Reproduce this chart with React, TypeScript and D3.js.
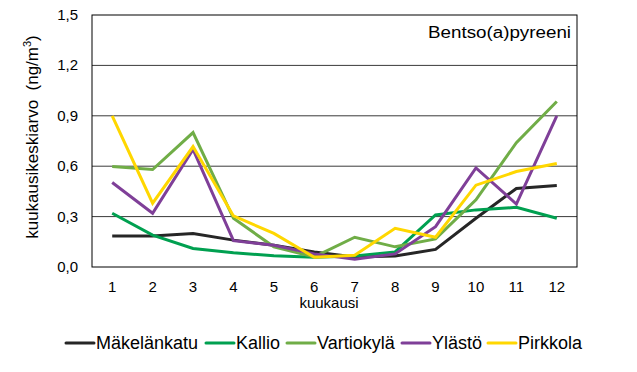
import { useEffect, useRef } from 'react';
import * as d3 from 'd3';

const months = ['1', '2', '3', '4', '5', '6', '7', '8', '9', '10', '11', '12'];
const yTicks = [0, 0.3, 0.6, 0.9, 1.2, 1.5];

const makelankatu = [0.185, 0.185, 0.2, 0.16, 0.13, 0.09, 0.06, 0.065, 0.105, 0.29, 0.467, 0.485];
const kallio = [0.32, 0.19, 0.11, 0.085, 0.067, 0.058, 0.065, 0.09, 0.31, 0.34, 0.355, 0.29];
const vartiokyla = [0.598, 0.58, 0.8, 0.29, 0.12, 0.06, 0.177, 0.12, 0.167, 0.4, 0.74, 0.985];
const ylasto = [0.503, 0.32, 0.7, 0.157, 0.13, 0.078, 0.046, 0.078, 0.24, 0.59, 0.375, 0.9];
const pirkkola = [0.9, 0.38, 0.717, 0.304, 0.2, 0.058, 0.07, 0.23, 0.177, 0.487, 0.568, 0.616];

const seriesNames = ['Mäkelänkatu', 'Kallio', 'Vartiokylä', 'Ylästö', 'Pirkkola'];
const seriesColors = ['#262626', '#00A050', '#70AD47', '#7F3F98', '#FFD700'];

const LineChart: React.FC = () => {
  const svgRef = useRef<SVGSVGElement>(null);

  const width = 637;
  const height = 372;
  const plot = { left: 92, right: 577, top: 15, bottom: 267 };
  const font = '"Liberation Sans", Arial, sans-serif';

  useEffect(() => {
    if (!svgRef.current) return;
    const svg = d3.select(svgRef.current);
    svg.selectAll('*').remove();

    const x = d3.scaleBand<string>()
      .domain(months)
      .range([plot.left, plot.right]);

    const y = d3.scaleLinear()
      .domain([0, 1.5])
      .range([plot.bottom, plot.top]);

    // gridlines
    svg.append('g')
      .selectAll('line')
      .data(yTicks.slice(1, -1))
      .enter()
      .append('line')
      .attr('x1', plot.left)
      .attr('x2', plot.right)
      .attr('y1', d => y(d))
      .attr('y2', d => y(d))
      .attr('stroke', '#3a3a3a')
      .attr('stroke-width', 1);

    // y tick labels
    svg.append('g')
      .selectAll('text')
      .data(yTicks)
      .enter()
      .append('text')
      .attr('x', plot.left - 14)
      .attr('y', d => y(d) + 5)
      .attr('text-anchor', 'end')
      .style('font-family', font)
      .style('font-size', '15px')
      .attr('fill', '#000')
      .text(d => d.toFixed(1).replace('.', ','));

    // x tick labels
    svg.append('g')
      .selectAll('text')
      .data(months)
      .enter()
      .append('text')
      .attr('x', d => (x(d) as number) + x.bandwidth() / 2)
      .attr('y', 292)
      .attr('text-anchor', 'middle')
      .style('font-family', font)
      .style('font-size', '15px')
      .text(d => d);

    svg.append('text')
      .attr('x', 329)
      .attr('y', 308)
      .attr('text-anchor', 'middle')
      .style('font-family', font)
      .style('font-size', '15px')
      .text('kuukausi');

    // y axis title
    const yTitle = svg.append('text')
      .attr('transform', `translate(38,${(plot.top + plot.bottom) / 2 - 4}) rotate(-90)`)
      .attr('text-anchor', 'middle')
      .style('font-family', font)
      .style('font-size', '17px');
    yTitle.append('tspan').text('kuukausikeskiarvo\u00a0 (ng/m');
    yTitle.append('tspan').attr('dy', -7).style('font-size', '11px').text('3');
    yTitle.append('tspan').attr('dy', 7).text(')');

    // lines
    const allSeries = [makelankatu, kallio, vartiokyla, ylasto, pirkkola];
    const line = d3.line<number>()
      .x((_, i) => (x(months[i]) as number) + x.bandwidth() / 2)
      .y(d => y(d));

    svg.append('g')
      .selectAll('path')
      .data(allSeries)
      .enter()
      .append('path')
      .attr('d', d => line(d))
      .attr('fill', 'none')
      .attr('stroke', (_, i) => seriesColors[i])
      .attr('stroke-width', 3)
      .attr('stroke-linejoin', 'miter');

    // plot border
    svg.append('rect')
      .attr('x', plot.left)
      .attr('y', plot.top)
      .attr('width', plot.right - plot.left)
      .attr('height', plot.bottom - plot.top)
      .attr('fill', 'none')
      .attr('stroke', '#000')
      .attr('stroke-width', 1);

    // title inside plot
    svg.append('text')
      .attr('x', 428)
      .attr('y', 38)
      .style('font-family', font)
      .style('font-size', '16px')
      .attr('textLength', 143)
      .attr('lengthAdjust', 'spacingAndGlyphs')
      .text('Bentso(a)pyreeni');

    // legend
    const legendStarts = [66, 206, 287, 402, 488];
    const legend = svg.append('g')
      .selectAll('g')
      .data(seriesNames)
      .enter()
      .append('g')
      .attr('transform', (_, i) => `translate(${legendStarts[i]},343)`);

    legend.append('line')
      .attr('x1', 0)
      .attr('x2', 28)
      .attr('y1', 0)
      .attr('y2', 0)
      .attr('stroke', (_, i) => seriesColors[i])
      .attr('stroke-width', 3)
      .attr('stroke-linecap', 'round');

    legend.append('text')
      .attr('x', 30)
      .attr('y', 6)
      .style('font-family', font)
      .style('font-size', '18px')
      .text(d => d);
  }, []);

  return (
    <svg ref={svgRef} width={width} height={height} style={{ display: 'block', background: '#fff' }}></svg>
  );
};

export default function App() {
  return (
    <div style={{ position: 'absolute', left: 0, top: 0 }}>
      <LineChart />
    </div>
  );
}
